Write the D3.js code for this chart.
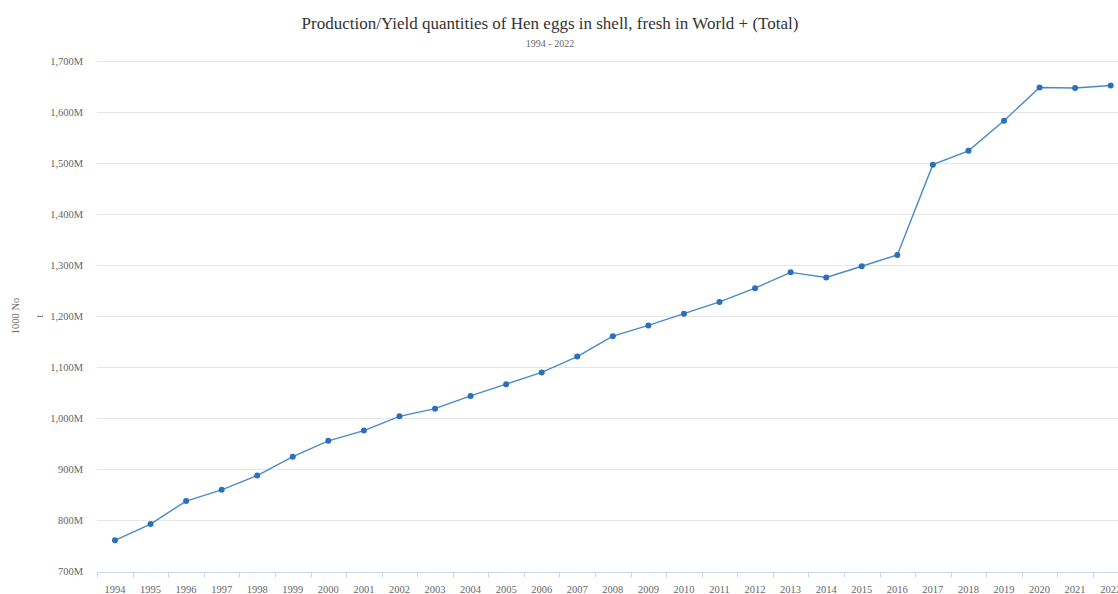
<!DOCTYPE html>
<html>
<head>
<meta charset="utf-8">
<script src="https://cdn.jsdelivr.net/npm/d3@7"></script>
<style>
  html, body { margin: 0; padding: 0; background: #fff; overflow: hidden; }
  svg { display: block; font-family: "Liberation Serif", "Times New Roman", serif; }
</style>
</head>
<body>
<svg id="chart" width="1118" height="594"></svg>
<script>
const years = ["1994","1995","1996","1997","1998","1999","2000","2001","2002","2003","2004","2005","2006","2007","2008","2009","2010","2011","2012","2013","2014","2015","2016","2017","2018","2019","2020","2021","2022"];
// values in millions (1000 No)
const values = [761, 793, 838, 860, 888, 925, 956, 976, 1004, 1019, 1044, 1067, 1090, 1121, 1161, 1182, 1205, 1228, 1255, 1286, 1276, 1298, 1320, 1497, 1524, 1583, 1648, 1647, 1652];
const yTicks = [700, 800, 900, 1000, 1100, 1200, 1300, 1400, 1500, 1600, 1700];
const titleText = "Production/Yield quantities of Hen eggs in shell, fresh in World + (Total)";
const subtitleText = "1994 - 2022";
const yTitleLines = ["1000 No", "t"];

const svg = d3.select("#chart");
const left = 97.2, bandW = 35.56;
const x = d3.scaleBand().domain(years).range([left, left + bandW * years.length]).paddingInner(0).paddingOuter(0);
const y = d3.scaleLinear().domain([700, 1700]).range([571.5, 61]);

// gridlines
svg.append("g").selectAll("line").data(yTicks.slice(1)).join("line")
  .attr("x1", left).attr("x2", 1118)
  .attr("y1", d => Math.round(y(d)) + 0.5).attr("y2", d => Math.round(y(d)) + 0.5)
  .attr("stroke", "#e6e6e6").attr("stroke-width", 1);

// y axis labels
const yAxis = svg.append("g").attr("transform", `translate(${left},0)`)
  .call(d3.axisLeft(y).tickValues(yTicks).tickSize(0).tickPadding(14)
    .tickFormat(d => d3.format(",")(d) + "M"));
yAxis.select(".domain").remove();
yAxis.selectAll("text").attr("fill", "#666").style("font-size", "10.5px")
  .style("font-family", "Liberation Serif, serif");

// x axis
const xAxis = svg.append("g").attr("transform", `translate(0,${Math.round(y(700)) + 0.5})`)
  .call(d3.axisBottom(x).tickSize(0).tickPadding(13));
xAxis.select(".domain").attr("stroke", "#ccd6eb").attr("stroke-width", 1).attr("d", `M${left},0H1118`);
xAxis.selectAll("text").attr("fill", "#666").style("font-size", "10.5px")
  .style("font-family", "Liberation Serif, serif");
// boundary ticks
svg.append("g").selectAll("line").data(years).join("line")
  .attr("x1", d => Math.round(x(d)) + 0.5).attr("x2", d => Math.round(x(d)) + 0.5)
  .attr("y1", Math.round(y(700)) + 0.5).attr("y2", Math.round(y(700)) + 5.5)
  .attr("stroke", "#ccd6eb").attr("stroke-width", 1);

// line
const cx = d => x(d) + x.bandwidth() / 2;
const line = d3.line().x((d, i) => cx(years[i])).y(d => y(d));
svg.append("path").datum(values).attr("d", line)
  .attr("fill", "none").attr("stroke", "#4a8ac8").attr("stroke-width", 1.4);

svg.append("g").selectAll("circle").data(values).join("circle")
  .attr("cx", (d, i) => cx(years[i])).attr("cy", d => y(d)).attr("r", 3)
  .attr("fill", "#2b6fbe");

// titles
svg.append("text").attr("x", 550).attr("y", 29).attr("text-anchor", "middle")
  .attr("fill", "#333").style("font-size", "17px").text(titleText);
svg.append("text").attr("x", 550).attr("y", 47).attr("text-anchor", "middle")
  .attr("fill", "#666").style("font-size", "10px").text(subtitleText);

// y axis title (two rotated lines)
const yT = svg.append("text").attr("transform", `translate(0,316) rotate(-90)`)
  .attr("text-anchor", "middle").attr("fill", "#666").style("font-size", "10.5px");
yT.append("tspan").attr("x", 0).attr("y", 19).text(yTitleLines[0]);
yT.append("tspan").attr("x", 0).attr("y", 43).text(yTitleLines[1]);
</script>
</body>
</html>
